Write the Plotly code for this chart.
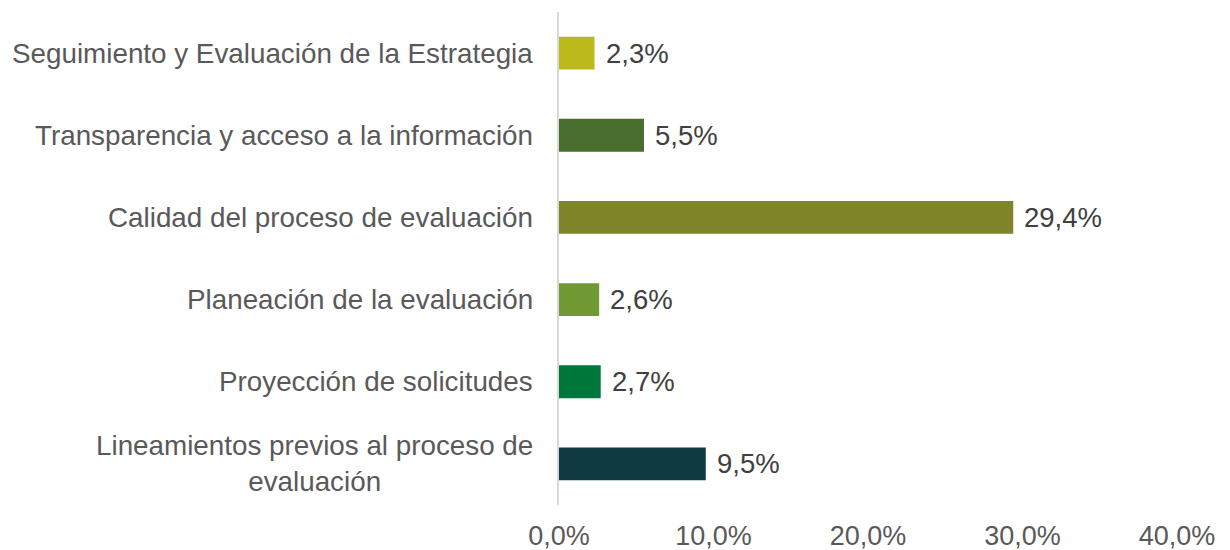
import plotly.graph_objects as go

categories = [
    "Lineamientos previos al proceso de<br>evaluación",
    "Proyección de solicitudes",
    "Planeación de la evaluación",
    "Calidad del proceso de evaluación",
    "Transparencia y acceso a la información",
    "Seguimiento y Evaluación de la Estrategia",
]
values = [9.5, 2.7, 2.6, 29.4, 5.5, 2.3]
value_labels = ["9,5%", "2,7%", "2,6%", "29,4%", "5,5%", "2,3%"]
colors = ["#0F3A42", "#00773A", "#719A35", "#808428", "#4A6E2D", "#BCB91A"]
tick_vals = [0, 10, 20, 30, 40]
tick_text = ["0,0%", "10,0%", "20,0%", "30,0%", "40,0%"]

FONT = "Liberation Sans, Arial, sans-serif"

fig = go.Figure()
fig.add_trace(go.Bar(
    x=values, y=categories, orientation="h",
    marker=dict(color=colors, line=dict(width=0)),
    hoverinfo="skip",
))

annotations = []
for c, v, t in zip(categories, values, value_labels):
    annotations.append(dict(
        x=v, y=c, xref="x", yref="y", text=t, showarrow=False,
        xanchor="left", yanchor="middle", xshift=9,
        font=dict(family=FONT, size=27.5, color="#404040"),
    ))
    annotations.append(dict(
        x=0, y=c, xref="paper", yref="y", text=c, showarrow=False,
        xanchor="right", yanchor="middle", xshift=-24, align="center",
        font=dict(family=FONT, size=27.8, color="#595959"),
    ))

fig.update_layout(
    width=1230, height=550,
    margin=dict(l=559, r=53, t=12, b=45),
    paper_bgcolor="white", plot_bgcolor="white",
    bargap=0.6,
    showlegend=False,
    annotations=annotations,
    xaxis=dict(
        range=[0, 40], tickvals=tick_vals, ticktext=tick_text,
        showgrid=False, zeroline=False, showline=False,
        tickfont=dict(family=FONT, size=27, color="#595959"),
        ticklabelstandoff=12, automargin=False,
    ),
    yaxis=dict(
        categoryorder="array", categoryarray=categories,
        showticklabels=False, showgrid=False, zeroline=False,
        showline=True, linecolor="#D9D9D9", linewidth=2,
        automargin=False,
    ),
)

fig.write_html(
    "out.html",
    config={"displayModeBar": False},
    post_script="document.body.style.margin='0';document.body.style.overflow='hidden';",
)
